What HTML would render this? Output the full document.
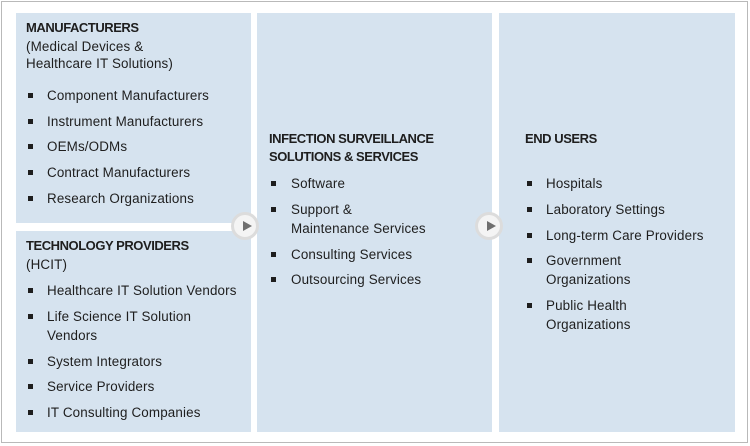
<!DOCTYPE html>
<html><head><meta charset="utf-8"><style>
*{margin:0;padding:0;box-sizing:border-box}
body{width:750px;height:446px;background:#fff;position:relative;overflow:hidden;font-family:"Liberation Sans",sans-serif;color:#1e1e1e}
.o{position:absolute;left:1px;top:1px;width:747px;height:442px;border:1px solid #b9b9b9}
.p{position:absolute;background:#d6e3ef}
.t{position:absolute;font-size:13.4px;line-height:16px;white-space:nowrap;letter-spacing:0.15px}
.b{font-weight:bold;font-size:13px;letter-spacing:-0.45px}
.s{position:absolute;width:5px;height:5px;background:#1e1e1e}
.c{position:absolute;width:28px;height:28px;border-radius:50%;background:#f4f4f4;border:3px solid #dcdcdc}
.c:after{content:"";position:absolute;left:9px;top:6px;border-left:9px solid #6f6f6f;border-top:5.5px solid transparent;border-bottom:5.5px solid transparent}
</style></head><body>
<div class="o"></div>
<div class="p" style="left:16px;top:13px;width:235px;height:210px"></div>
<div class="p" style="left:16px;top:231px;width:235px;height:201px"></div>
<div class="p" style="left:257px;top:13px;width:235px;height:419px"></div>
<div class="p" style="left:499px;top:13px;width:236px;height:419px"></div>
<div class="c" style="left:231px;top:212px"></div>
<div class="c" style="left:475px;top:212px"></div>

<div class="t b" style="left:26px;top:20px">MANUFACTURERS</div>
<div class="t" style="left:26px;top:39px">(Medical Devices &amp;</div>
<div class="t" style="left:26px;top:56px">Healthcare IT Solutions)</div>
<div class="s" style="left:28px;top:93px"></div><div class="t" style="left:47px;top:88px">Component Manufacturers</div>
<div class="s" style="left:28px;top:119px"></div><div class="t" style="left:47px;top:114px">Instrument Manufacturers</div>
<div class="s" style="left:28px;top:144px"></div><div class="t" style="left:47px;top:139px">OEMs/ODMs</div>
<div class="s" style="left:28px;top:170px"></div><div class="t" style="left:47px;top:165px">Contract Manufacturers</div>
<div class="s" style="left:28px;top:196px"></div><div class="t" style="left:47px;top:191px">Research Organizations</div>

<div class="t b" style="left:26px;top:238px">TECHNOLOGY PROVIDERS</div>
<div class="t" style="left:26px;top:257px">(HCIT)</div>
<div class="s" style="left:28px;top:288px"></div><div class="t" style="left:47px;top:283px">Healthcare IT Solution Vendors</div>
<div class="s" style="left:28px;top:314px"></div><div class="t" style="left:47px;top:309px">Life Science IT Solution</div>
<div class="t" style="left:47px;top:328px">Vendors</div>
<div class="s" style="left:28px;top:359px"></div><div class="t" style="left:47px;top:354px">System Integrators</div>
<div class="s" style="left:28px;top:384px"></div><div class="t" style="left:47px;top:379px">Service Providers</div>
<div class="s" style="left:28px;top:410px"></div><div class="t" style="left:47px;top:405px">IT Consulting Companies</div>

<div class="t b" style="left:269px;top:131px">INFECTION SURVEILLANCE</div>
<div class="t b" style="left:269px;top:149px">SOLUTIONS &amp; SERVICES</div>
<div class="s" style="left:271px;top:181px"></div><div class="t" style="left:291px;top:176px">Software</div>
<div class="s" style="left:271px;top:207px"></div><div class="t" style="left:291px;top:202px">Support &amp;</div>
<div class="t" style="left:291px;top:221px">Maintenance Services</div>
<div class="s" style="left:271px;top:252px"></div><div class="t" style="left:291px;top:247px">Consulting Services</div>
<div class="s" style="left:271px;top:277px"></div><div class="t" style="left:291px;top:272px">Outsourcing Services</div>

<div class="t b" style="left:525px;top:131px">END USERS</div>
<div class="s" style="left:527px;top:181px"></div><div class="t" style="left:546px;top:176px">Hospitals</div>
<div class="s" style="left:527px;top:207px"></div><div class="t" style="left:546px;top:202px">Laboratory Settings</div>
<div class="s" style="left:527px;top:233px"></div><div class="t" style="left:546px;top:228px">Long-term Care Providers</div>
<div class="s" style="left:527px;top:258px"></div><div class="t" style="left:546px;top:253px">Government</div>
<div class="t" style="left:546px;top:272px">Organizations</div>
<div class="s" style="left:527px;top:303px"></div><div class="t" style="left:546px;top:298px">Public Health</div>
<div class="t" style="left:546px;top:317px">Organizations</div>
</body></html>
